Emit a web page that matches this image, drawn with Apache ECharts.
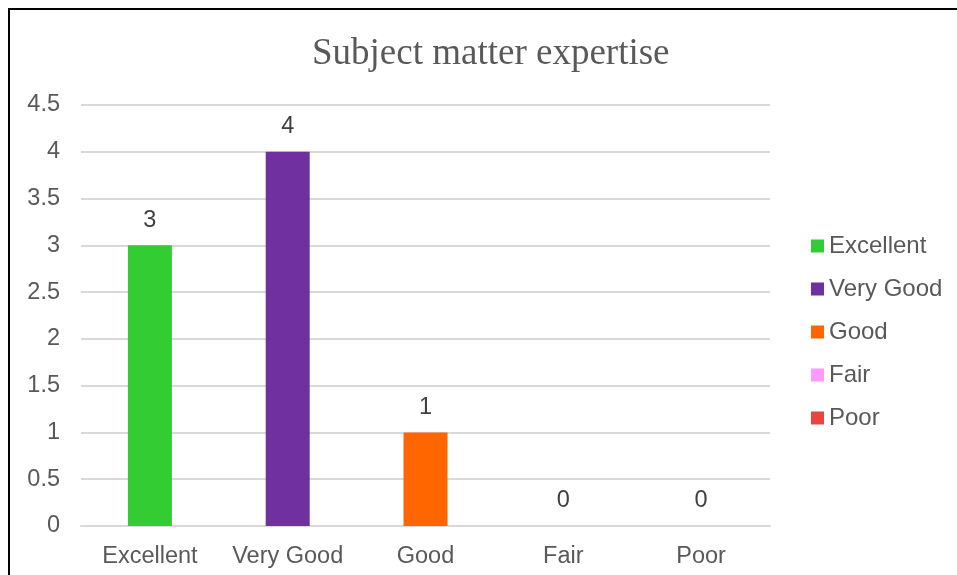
<!DOCTYPE html>
<html>
<head>
<meta charset="utf-8">
<script src="https://cdn.jsdelivr.net/npm/echarts@6/dist/echarts.min.js"></script>
<style>html,body{margin:0;padding:0;background:#fff;}#c{width:957px;height:575px;}</style>
</head>
<body>
<div id="c"></div>
<script>
var titleText = "Subject matter expertise";
var categories = ["Excellent", "Very Good", "Good", "Fair", "Poor"];
var values = [3, 4, 1, 0, 0];
var colors = ["#33CC33", "#7030A0", "#FF6600", "#FF99FF", "#E8453C"];
var yTicks = { min: 0, max: 4.5, interval: 0.5 };

var FONT = "'Liberation Sans', Arial, sans-serif";
var series = categories.map(function (name, i) {
  var d = categories.map(function (_, j) { return j === i ? values[i] : null; });
  return {
    name: name,
    type: 'bar',
    stack: 'total',
    barWidth: 44,
    data: d,
    itemStyle: { color: colors[i] },
    label: {
      show: true, position: 'top', distance: 13,
      color: '#404040', fontSize: 23.5, fontFamily: FONT
    }
  };
});

var chart = echarts.init(document.getElementById('c'), null, { renderer: 'canvas' });
chart.setOption({
  animation: false,
  backgroundColor: '#fff',
  title: {
    text: titleText, left: 307, top: 31,
    textStyle: { fontFamily: "'Liberation Serif', 'Times New Roman', serif", fontWeight: 'normal', fontSize: 37, color: '#595959' }
  },
  legend: {
    orient: 'vertical', left: 806, top: 229, itemGap: 19,
    itemWidth: 13, itemHeight: 13, icon: 'rect',
    data: categories,
    textStyle: { fontFamily: FONT, fontSize: 24, color: '#595959' }
  },
  grid: { left: 81, right: 187, top: 105, bottom: 49, containLabel: false },
  xAxis: {
    type: 'category', data: categories,
    axisLine: { show: true, lineStyle: { color: '#D9D9D9', width: 2 } },
    axisTick: { show: false },
    axisLabel: { interval: 0, color: '#595959', fontSize: 23.5, fontFamily: FONT, margin: 19 }
  },
  yAxis: {
    type: 'value', min: yTicks.min, max: yTicks.max, interval: yTicks.interval,
    axisLine: { show: false }, axisTick: { show: false },
    splitLine: { lineStyle: { color: '#D9D9D9', width: 2 } },
    axisLabel: { color: '#595959', fontSize: 23.5, fontFamily: FONT, margin: 21 }
  },
  graphic: [{
    type: 'rect', silent: true, z: 100,
    shape: { x: 9, y: 9, width: 1200, height: 1200 },
    style: { fill: 'none', stroke: '#000', lineWidth: 2 }
  }],
  series: series
});
</script>
</body>
</html>
